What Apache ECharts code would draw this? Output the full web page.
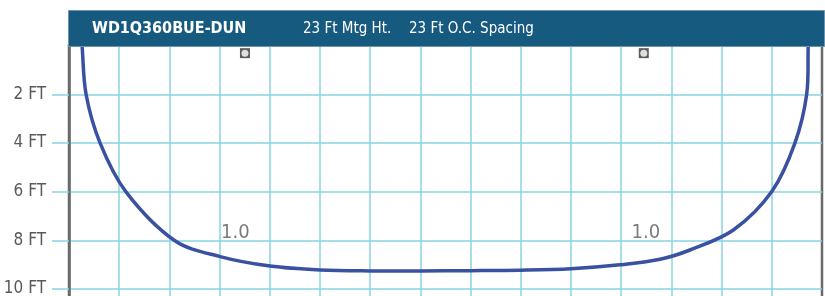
<!DOCTYPE html>
<html>
<head>
<meta charset="utf-8">
<script src="https://cdn.jsdelivr.net/npm/echarts@6/dist/echarts.min.js"></script>
<style>
  html, body { margin: 0; padding: 0; background: #fff; }
  #chart { width: 825px; height: 296px; }
</style>
</head>
<body>
<div id="chart"></div>
<script>
  // header texts
  const modelName = "WD1Q360BUE-DUN";
  const mountHeight = "23 Ft Mtg Ht.";
  const poleSpacing = "23 Ft O.C. Spacing";

  // y axis ticks (feet)
  const yTicks = [2, 4, 6, 8, 10, 12];

  // 1.0 footcandle contour (x and y in feet)
  const contourX = [0.52, 0.68, 1.24, 2.27, 4.22, 6.02, 8.01, 10.0, 12.0, 14.0, 16.0, 18.0, 20.0,
    21.95, 23.55, 24.74, 26.47, 28.0, 28.92, 29.39, 29.45];
  const contourY = [0.00, 2.00, 4.01, 6.01, 8.02, 8.67, 9.06, 9.22, 9.26, 9.26, 9.25, 9.23, 9.17,
    9.01, 8.78, 8.40, 7.58, 6.00, 4.01, 2.00, 0.00];

  // pole locations
  const poleX = [7.01, 22.9];
  const poleY = [0.31, 0.31];

  // contour value labels
  const labelX = [6.63, 22.98];
  const labelY = [7.71, 7.71];
  const labelText = ["1.0", "1.0"];

  const narrow = "'Liberation Sans Narrow', 'DejaVu Sans Condensed', sans-serif";
  const gridColor = "#88d5e2";
  const frameColor = "#6a6a6a";

  const contourData = contourX.map((x, i) => [x, contourY[i]]);
  const poleData = poleX.map((x, i) => [x, poleY[i]]);
  const labelData = labelX.map((x, i) => ({ value: [x, labelY[i]], name: labelText[i] }));

  // smooth curve through the contour points (pixel space), tangents scaled by segment length
  function contourPath(pts) {
    const unit = (a, b) => {
      const dx = b[0] - a[0], dy = b[1] - a[1];
      const d = Math.hypot(dx, dy) || 1;
      return [dx / d, dy / d];
    };
    let path = "M" + pts[0][0] + " " + pts[0][1];
    for (let i = 0; i < pts.length - 1; i++) {
      const p0 = pts[Math.max(i - 1, 0)], p1 = pts[i], p2 = pts[i + 1], p3 = pts[Math.min(i + 2, pts.length - 1)];
      const len = Math.hypot(p2[0] - p1[0], p2[1] - p1[1]) / 3;
      const t1 = unit(p0, p2), t2 = unit(p1, p3);
      const c1 = [p1[0] + t1[0] * len, p1[1] + t1[1] * len];
      const c2 = [p2[0] - t2[0] * len, p2[1] - t2[1] * len];
      path += " C" + c1[0] + " " + c1[1] + " " + c2[0] + " " + c2[1] + " " + p2[0] + " " + p2[1];
    }
    return path;
  }

  const chart = echarts.init(document.getElementById("chart"), null, { renderer: "canvas" });
  chart.setOption({
    animation: false,
    grid: {
      left: 69, right: 3, top: 45.6, bottom: -41.6,
      containLabel: false, outerBoundsMode: "none",
      show: true, borderColor: frameColor, borderWidth: 2.5,
      backgroundColor: "transparent"
    },
    xAxis: {
      type: "value", min: 0, max: 30, interval: 2,
      axisLine: { show: false }, axisTick: { show: false }, axisLabel: { show: false },
      splitLine: { show: true, showMinLine: false, showMaxLine: false, lineStyle: { color: gridColor, width: 1.5 } }
    },
    yAxis: {
      type: "value", inverse: true, min: 0, max: 12, interval: 2,
      axisLine: { show: true, lineStyle: { color: frameColor, width: 2.5 } },
      axisTick: { show: true, length: 17, customValues: yTicks, lineStyle: { color: gridColor, width: 1.5 } },
      axisLabel: {
        customValues: yTicks, margin: 23, color: "#5a5a5a", fontSize: 17, fontFamily: narrow,
        formatter: v => v + " FT"
      },
      splitLine: { show: true, lineStyle: { color: gridColor, width: 1.5 } }
    },
    series: [
      {
        type: "custom", data: contourData, z: 5, clip: false,
        renderItem: (params, api) => {
          if (params.dataIndex !== 0) return null;
          const pts = contourData.map(p => api.coord(p));
          return {
            type: "path",
            shape: { pathData: contourPath(pts) },
            style: { stroke: "#3a51a2", lineWidth: 3.5, fill: null }
          };
        }
      },
      {
        type: "scatter", data: poleData, symbol: "rect", symbolSize: 10,
        itemStyle: { color: "#333" }, z: 6
      },
      {
        type: "scatter", data: poleData, symbol: "circle", symbolSize: 7,
        itemStyle: { color: "#fff" }, z: 7
      },
      {
        type: "scatter", data: labelData, symbolSize: 0,
        label: {
          show: true, position: "inside", formatter: p => p.name,
          color: "#5a5a5a", fontSize: 20, fontFamily: narrow
        }, z: 8
      }
    ],
    graphic: [
      {
        type: "rect", left: 68, top: 10, z: 100,
        shape: { width: 756, height: 36 },
        style: { fill: "#165a80", stroke: "#6f93aa", lineWidth: 1 }
      },
      {
        type: "text", left: 92, top: 21, z: 101,
        style: { text: modelName, fill: "#fff", font: "bold 16px " + narrow }
      },
      {
        type: "text", left: 303, top: 22, z: 101,
        style: { text: mountHeight, fill: "#fff", font: "15px " + narrow }
      },
      {
        type: "text", left: 409, top: 22, z: 101,
        style: { text: poleSpacing, fill: "#fff", font: "15px " + narrow }
      }
    ]
  });
</script>
</body>
</html>
